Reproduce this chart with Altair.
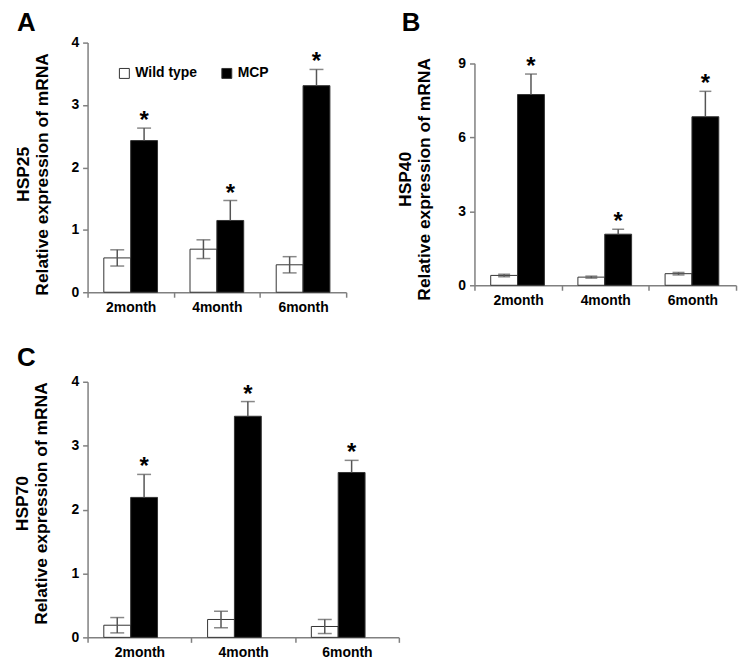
import altair as alt
import pandas as pd

months = ["2month", "4month", "6month"]
groups = ["Wild type", "MCP"]

# Panel A (HSP25)
a_wt = [0.55, 0.69, 0.44]
a_wt_err = [0.13, 0.15, 0.13]
a_mcp = [2.43, 1.15, 3.31]
a_mcp_err = [0.20, 0.32, 0.26]

# Panel B (HSP40)
b_wt = [0.40, 0.33, 0.47]
b_wt_err = [0.05, 0.04, 0.05]
b_mcp = [7.73, 2.07, 6.83]
b_mcp_err = [0.83, 0.20, 1.03]

# Panel C (HSP70)
c_wt = [0.19, 0.28, 0.17]
c_wt_err = [0.12, 0.13, 0.11]
c_mcp = [2.19, 3.46, 2.58]
c_mcp_err = [0.36, 0.23, 0.19]

FONT = "Liberation Sans"
AXC = "#808080"
ERRC = "#555555"


def make_df(wt, wt_err, mcp, mcp_err):
    rows = []
    for i, m in enumerate(months):
        rows.append(dict(month=m, group="Wild type", value=wt[i], err=wt_err[i],
                         lo=wt[i] - wt_err[i], hi=wt[i] + wt_err[i]))
        rows.append(dict(month=m, group="MCP", value=mcp[i], err=mcp_err[i],
                         lo=mcp[i], hi=mcp[i] + mcp_err[i]))
    return pd.DataFrame(rows)


def panel(letter, gene, wt, wt_err, mcp, mcp_err, ymax, yticks, width, height,
          yrange, po, title_pad, letter_x, letter_y, title_y, legend, cap):
    df = make_df(wt, wt_err, mcp, mcp_err)
    base = alt.Chart(df)
    x = alt.X("month:N", sort=months,
              scale=alt.Scale(paddingInner=0, paddingOuter=0),
              axis=alt.Axis(title=None, tickBand="extent", labelAngle=0,
                            labelPadding=3, tickSize=5))
    xo = alt.XOffset("group:N", sort=groups,
                     scale=alt.Scale(domain=groups, paddingInner=0, paddingOuter=po))
    if yrange is not None:
        ysc = alt.Scale(domain=[0, ymax], nice=False, zero=True, range=yrange)
    else:
        ysc = alt.Scale(domain=[0, ymax], nice=False, zero=True)
    y = alt.Y("value:Q", scale=ysc,
              axis=alt.Axis(title=[gene, "Relative expression of mRNA"],
                            values=yticks, format="d", grid=False, tickSize=5,
                            labelPadding=4, titlePadding=title_pad, titleY=title_y))
    if legend:
        leg = alt.Legend(orient="none", legendX=30, legendY=24, direction="horizontal",
                         title=None, symbolType="square", symbolSize=100,
                         symbolStrokeColor="#333", symbolStrokeWidth=1,
                         labelFont=FONT, labelFontSize=14, labelFontWeight="bold",
                         labelColor="black", columnPadding=22, labelOffset=4,
                         padding=0)
    else:
        leg = None
    fill = alt.Fill("group:N", scale=alt.Scale(domain=groups, range=["white", "black"]),
                    legend=leg)
    bars = base.mark_bar(stroke="#333", strokeWidth=1).encode(x=x, xOffset=xo, y=y, fill=fill)
    rules = base.mark_rule(color=ERRC, strokeWidth=1.5).encode(
        x=x, xOffset=xo, y=alt.Y("lo:Q"), y2="hi:Q")
    caps_hi = base.mark_tick(color=ERRC, size=cap, thickness=1.5).encode(
        x=x, xOffset=xo, y=alt.Y("hi:Q"))
    caps_lo = base.transform_filter(alt.datum.group == "Wild type").mark_tick(
        color=ERRC, size=cap, thickness=1.5).encode(x=x, xOffset=xo, y=alt.Y("lo:Q"))
    stars = base.transform_filter(alt.datum.group == "MCP").mark_text(
        text="*", font=FONT, fontSize=24, fontWeight="bold", color="black",
        baseline="alphabetic", dy=0).encode(x=x, xOffset=xo, y=alt.Y("hi:Q"))
    lab = alt.Chart(pd.DataFrame({"letter": [letter]})).mark_text(
        font=FONT, fontSize=26, fontWeight="bold", color="black",
        align="left", baseline="top").encode(
        text="letter:N", x=alt.value(letter_x), y=alt.value(letter_y))
    layer = alt.layer(bars, rules, caps_hi, caps_lo, stars, lab).properties(
        width=width, height=height)
    return layer


pa = panel("A", "HSP25", a_wt, a_wt_err, a_mcp, a_mcp_err, 4, [0, 1, 2, 3, 4],
           260, 251, None, 0.605, 19, -71, -33, 132, True, 14)
pb = panel("B", "HSP40", b_wt, b_wt_err, b_mcp, b_mcp_err, 9, [0, 3, 6, 9],
           263, 244, [244, 20.7], 0.72, 24, -73, -33, 137, False, 12)
pc = panel("C", "HSP70", c_wt, c_wt_err, c_mcp, c_mcp_err, 4, [0, 1, 2, 3, 4],
           313, 257, None, 0.76, 20, -71, -37, 122, False, 14)

chart = alt.concat(pa, pb, pc, columns=2, bounds="flush",
                   spacing={"row": 90, "column": 76}).resolve_scale(
    fill="independent").resolve_legend(fill="independent").configure_axis(
    domainColor=AXC, domainWidth=1.5, tickColor=AXC, tickWidth=1.5,
    labelFont=FONT, labelFontSize=14, labelFontWeight="bold", labelColor="black",
    titleFont=FONT, titleFontSize=17.5, titleFontWeight="bold", titleColor="black",
    titleLineHeight=20
).configure_view(stroke=None).properties(
    padding={"left": 5, "top": 0, "right": 5, "bottom": 5},
    background="white")

chart.save("out.html", embed_options={"renderer": "svg", "actions": False})
